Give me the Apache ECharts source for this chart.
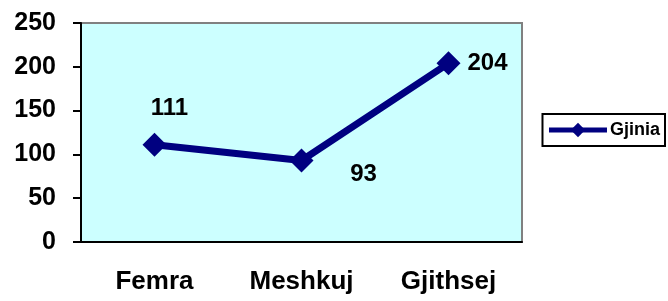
<!DOCTYPE html>
<html>
<head>
<meta charset="utf-8">
<script src="https://cdn.jsdelivr.net/npm/echarts@6/dist/echarts.min.js"></script>
<style>
  html, body { margin: 0; padding: 0; background: #fff; }
  #chart { width: 668px; height: 301px; }
</style>
</head>
<body>
<div id="chart"></div>
<script>
// Data
const categories = ['Femra', 'Meshkuj', 'Gjithsej'];
const values = [111, 93, 204];
const seriesName = 'Gjinia';
// label offsets per point, as in the picture
const labelOffsets = [[15, -36], [62, 14], [39, 0]];

const myChart = echarts.init(document.getElementById('chart'));

const option = {
    animation: false,
    textStyle: { fontFamily: 'Liberation Sans, Arial, sans-serif' },
    grid: {
        left: 81, top: 23, width: 441, height: 219,
        show: true,
        backgroundColor: '#CCFFFF',
        borderColor: '#808080',
        borderWidth: 2
    },
    legend: {
        data: [seriesName],
        right: 3,
        top: 114,
        orient: 'vertical',
        itemWidth: 58,
        itemHeight: 18,
        itemGap: 0,
        padding: [7, 5, 7, 4],
        borderColor: '#000',
        borderWidth: 2,
        borderRadius: 0,
        lineStyle: { width: 5 },
        textStyle: { fontSize: 18, fontWeight: 'bold', color: '#000', padding: [0, 0, 0, -2] }
    },
    xAxis: {
        type: 'category',
        data: categories,
        boundaryGap: true,
        axisLine: { lineStyle: { color: '#000', width: 2 } },
        axisTick: { length: 8, lineStyle: { color: '#000', width: 2 } },
        axisLabel: { fontSize: 26, fontWeight: 'bold', color: '#000', margin: 27 }
    },
    yAxis: {
        type: 'value',
        min: 0, max: 250, interval: 50,
        splitLine: { show: false },
        axisLine: { show: true, lineStyle: { color: '#000', width: 2 } },
        axisTick: { show: true, length: 8, lineStyle: { color: '#000', width: 2 } },
        axisLabel: { fontSize: 25, fontWeight: 'bold', color: '#000', margin: 25 }
    },
    series: [{
        name: seriesName,
        type: 'line',
        data: values.map((v, i) => ({
            value: v,
            label: {
                show: true,
                position: 'inside',
                offset: labelOffsets[i]
            }
        })),
        symbol: 'diamond',
        symbolSize: 24,
        color: '#000080',
        lineStyle: { color: '#000080', width: 7 },
        itemStyle: { color: '#000080' },
        label: { fontSize: 24, fontWeight: 'bold', color: '#000' }
    }]
};

myChart.setOption(option);
</script>
</body>
</html>
